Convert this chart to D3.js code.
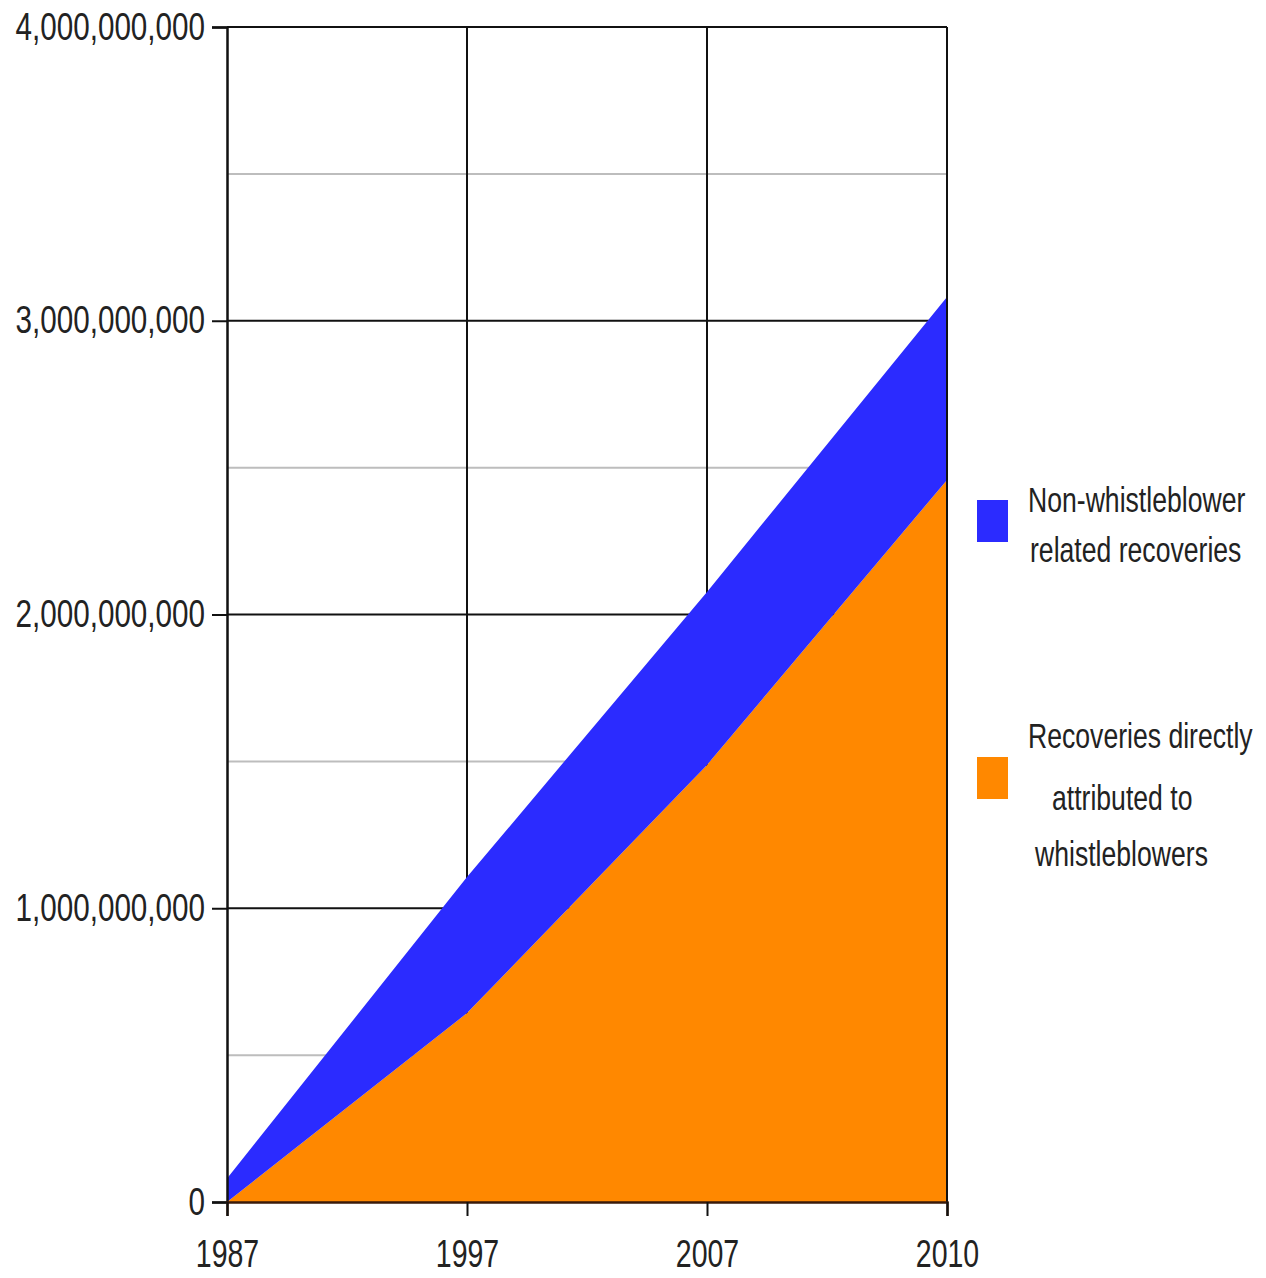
<!DOCTYPE html>
<html>
<head>
<meta charset="utf-8">
<script src="https://cdn.jsdelivr.net/npm/d3@7"></script>
<style>
  html, body { margin: 0; padding: 0; background: #fff; }
  svg { display: block; }
  text { font-family: "Liberation Sans", Arial, sans-serif; fill: #222; }
</style>
</head>
<body>
<svg id="chart" width="1266" height="1278"></svg>
<script>
// Recoveries by year (US dollars)
const years = ["1987", "1997", "2007", "2010"];
const whistleblowerRecoveries = [0, 643000000, 1488000000, 2458000000];
const nonWhistleblowerRecoveries = [80000000, 463000000, 589000000, 623000000];
const yTickValues = [0, 1000000000, 2000000000, 3000000000, 4000000000];
const yMinorValues = [500000000, 1500000000, 2500000000, 3500000000];

const seriesKeys = ["whistle", "nonWhistle"];
const seriesColors = { whistle: "#ff8800", nonWhistle: "#2b2bff" };
const legendItems = [
  { key: "nonWhistle", lines: ["Non-whistleblower", "related recoveries"] },
  { key: "whistle", lines: ["Recoveries directly", "attributed to", "whistleblowers"] }
];

const rows = years.map((yr, i) => ({
  year: yr,
  whistle: whistleblowerRecoveries[i],
  nonWhistle: nonWhistleblowerRecoveries[i]
}));

const svg = d3.select("#chart");
const plot = { left: 227, right: 947, top: 27, bottom: 1202 };
// condensed lettering: glyphs squeezed horizontally
const squeeze = 0.78;

const x = d3.scalePoint().domain(years).range([plot.left, plot.right]);
const y = d3.scaleLinear().domain([0, 4000000000]).range([plot.bottom, plot.top]);

// minor grid
svg.append("g").selectAll("line").data(yMinorValues).join("line")
  .attr("x1", plot.left).attr("x2", plot.right)
  .attr("y1", d => y(d)).attr("y2", d => y(d))
  .attr("stroke", "#bdbdbd").attr("stroke-width", 2);

// major grid
svg.append("g").selectAll("line").data(yTickValues.slice(1)).join("line")
  .attr("x1", plot.left).attr("x2", plot.right)
  .attr("y1", d => y(d)).attr("y2", d => y(d))
  .attr("stroke", "#111").attr("stroke-width", 2);

svg.append("g").selectAll("line").data(years.slice(1)).join("line")
  .attr("x1", d => x(d)).attr("x2", d => x(d))
  .attr("y1", plot.top).attr("y2", plot.bottom)
  .attr("stroke", "#111").attr("stroke-width", 2);

// stacked areas
const stacked = d3.stack().keys(seriesKeys)(rows);
const area = d3.area()
  .x(d => x(d.data.year))
  .y0(d => y(d[0]))
  .y1(d => y(d[1]));

svg.append("g").selectAll("path").data(stacked).join("path")
  .attr("d", area)
  .attr("fill", d => seriesColors[d.key]);

// right border over the areas
svg.append("line")
  .attr("x1", plot.right).attr("x2", plot.right).attr("y1", plot.top).attr("y2", plot.bottom)
  .attr("stroke", "#111").attr("stroke-width", 2);

// axes
const yTickSize = 15, yPad = 7;
const yAxis = d3.axisLeft(y).tickValues(yTickValues).tickSize(yTickSize).tickPadding(yPad)
  .tickFormat(d3.format(","));
const gy = svg.append("g").attr("transform", `translate(${plot.left},0)`).call(yAxis);
gy.select(".domain").attr("stroke", "#111").attr("stroke-width", 2.5);
gy.selectAll(".tick line").attr("stroke", "#111").attr("stroke-width", 2);
gy.selectAll(".tick text")
  .attr("font-size", 38).attr("fill", "#222")
  .attr("font-family", "Liberation Sans, Arial, sans-serif")
  .attr("x", -(yTickSize + yPad) / squeeze)
  .attr("transform", `scale(${squeeze},1)`);

const xAxis = d3.axisBottom(x).tickSize(14).tickPadding(24);
const gx = svg.append("g").attr("transform", `translate(0,${plot.bottom})`).call(xAxis);
gx.select(".domain").attr("stroke", "#3a1a0a").attr("stroke-width", 2.5);
gx.selectAll(".tick line").attr("stroke", "#111").attr("stroke-width", 2);
gx.selectAll(".tick text")
  .attr("font-size", 38).attr("fill", "#222")
  .attr("font-family", "Liberation Sans, Arial, sans-serif")
  .attr("transform", `scale(${squeeze - 0.03},1)`);

// legend
const legendLayout = [
  { sw: [977, 500, 31, 42], lines: [[1028, 512], [1030, 562]] },
  { sw: [977, 757, 31, 42], lines: [[1028, 748], [1052, 810], [1035, 866]] }
];
legendItems.forEach((item, i) => {
  const lay = legendLayout[i];
  svg.append("rect")
    .attr("x", lay.sw[0]).attr("y", lay.sw[1])
    .attr("width", lay.sw[2]).attr("height", lay.sw[3])
    .attr("fill", seriesColors[item.key]);
  item.lines.forEach((t, j) => {
    svg.append("text")
      .attr("transform", `translate(${lay.lines[j][0]},${lay.lines[j][1]}) scale(0.76,1)`)
      .attr("font-size", 35)
      .text(t);
  });
});
</script>
</body>
</html>
